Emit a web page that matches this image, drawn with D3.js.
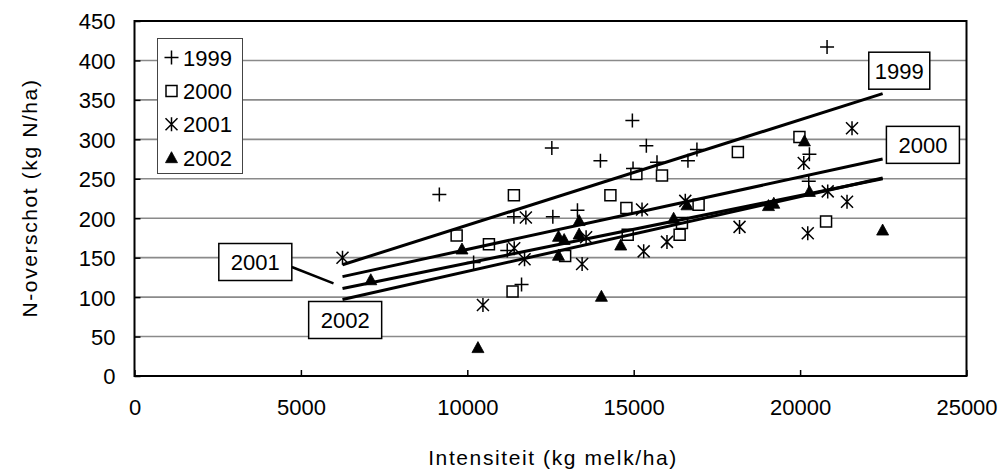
<!DOCTYPE html>
<html><head><meta charset="utf-8">
<script src="https://cdn.jsdelivr.net/npm/d3@7"></script>
<style>
body{margin:0;background:#fff}
svg{display:block}
text{font-family:"Liberation Sans",Arial,sans-serif;fill:#000}
</style>
</head><body><svg id="c" width="999" height="473"></svg>
<script>
// ---- data ----
const years = ["1999", "2000", "2001", "2002"];
const x1999 = [9160, 10190, 11200, 11400, 11630, 12540, 12570, 13310, 14000, 14960, 14980, 15380, 15700, 16630, 16900, 20260, 20280, 20810];
const y1999 = [230, 144, 159, 202, 116, 289, 202, 210, 273, 324, 263, 292, 271, 273, 287, 247, 281, 417];
const x2000 = [9680, 10650, 11360, 11400, 12940, 14300, 14780, 14820, 15080, 15850, 16380, 16450, 16950, 18130, 19980, 20780];
const y2000 = [178, 167, 107, 229, 152, 229, 213, 179, 256, 254, 179, 194, 217, 284, 303, 196];
const x2001 = [6250, 10470, 11410, 11720, 11760, 13450, 13570, 15250, 15300, 16000, 16550, 18180, 20110, 20230, 20830, 21410, 21560];
const y2001 = [150, 90, 162, 148, 201, 142, 176, 211, 158, 170, 222, 189, 270, 181, 234, 221, 314];
const x2002 = [7100, 9840, 10320, 12740, 12740, 12910, 13360, 13360, 14030, 14610, 16200, 16600, 19050, 19210, 20130, 20280, 22480];
const y2002 = [122, 161, 36, 177, 153, 173, 197, 180, 101, 166, 200, 217, 216, 219, 298, 234, 185];
// trend lines (start/end values over trendX)
const trendX = [6250, 22480];
const trend1999 = [141, 358];
const trend2000 = [126, 275];
const trend2001 = [111, 250];
const trend2002 = [97, 251];
// label boxes anchored in data units
const labelX = [22980, 23690, 3630, 6330];
const labelY = [387, 293, 144.5, 71];
const xTicks = [0, 5000, 10000, 15000, 20000, 25000];
const yTicks = [0, 50, 100, 150, 200, 250, 300, 350, 400, 450];
const xTitle = "Intensiteit (kg melk/ha)";
const yTitle = "N-overschot (kg N/ha)";

// ---- drawing ----
const svg = d3.select("#c");
const x = d3.scaleLinear().domain([0, 25000]).range([134.5, 966.5]);
const y = d3.scaleLinear().domain([0, 450]).range([376, 21]);

// gridlines
svg.append("g").selectAll("line").data(yTicks.filter(d => d > 0 && d < 450)).join("line")
  .attr("x1", x(0)).attr("x2", x(25000))
  .attr("y1", d => y(d)).attr("y2", d => y(d))
  .attr("stroke", "#8a8a8a").attr("stroke-width", 1.6);

// axes with inward ticks
const gx = svg.append("g").attr("transform", `translate(0,${y(0)})`)
  .call(d3.axisBottom(x).tickValues(xTicks).tickSize(-6).tickPadding(0).tickFormat(d3.format("d")));
gx.select(".domain").remove();
gx.selectAll(".tick line").attr("stroke", "#000").attr("stroke-width", 1.5);
gx.selectAll(".tick text").attr("y", 39).attr("dy", 0).style("font-size", "22px")
  .attr("font-family", "'Liberation Sans',Arial,sans-serif").attr("fill", "#000");

const gy = svg.append("g").attr("transform", `translate(${x(0)},0)`)
  .call(d3.axisLeft(y).tickValues(yTicks).tickSize(-6).tickPadding(0).tickFormat(d3.format("d")));
gy.select(".domain").remove();
gy.selectAll(".tick line").attr("stroke", "#000").attr("stroke-width", 1.5);
gy.selectAll(".tick text").attr("x", -19).attr("dy", "0.36em").style("font-size", "22px")
  .attr("font-family", "'Liberation Sans',Arial,sans-serif").attr("fill", "#000");

// plot border
svg.append("rect").attr("x", x(0)).attr("y", y(450))
  .attr("width", x(25000) - x(0)).attr("height", y(0) - y(450))
  .attr("fill", "none").attr("stroke", "#000").attr("stroke-width", 2);

// marker shapes
const markerPaths = {
  "1999": "M-7,0L7,0M0,-7L0,7",
  "2000": "M-5.5,-5.5H5.5V5.5H-5.5Z",
  "2001": "M0,-7L0,7M-6,-6L6,6M-6,6L6,-6",
  "2002": "M0,-6L6,5H-6Z"
};
const markerFill = {"1999": "none", "2000": "#fff", "2001": "none", "2002": "#000"};
function drawMarker(g, yr, px, py) {
  g.append("path").attr("d", markerPaths[yr])
    .attr("transform", `translate(${px},${py})`)
    .attr("fill", markerFill[yr]).attr("stroke", "#000")
    .attr("stroke-width", yr === "2002" ? 0.8 : 1.5);
}
const seriesX = [x1999, x2000, x2001, x2002];
const seriesY = [y1999, y2000, y2001, y2002];
const pts = svg.append("g");
years.forEach((yr, i) => {
  seriesX[i].forEach((xv, j) => drawMarker(pts, yr, x(xv), y(seriesY[i][j])));
});

// trend lines
const trends = [trend1999, trend2000, trend2001, trend2002];
const line = d3.line().x((d, i) => x(trendX[i])).y(d => y(d));
svg.append("g").selectAll("path").data(trends).join("path")
  .attr("d", d => line(d)).attr("fill", "none").attr("stroke", "#000").attr("stroke-width", 3);

// leader line for 2001 label
svg.append("line")
  .attr("x1", x(labelX[2]) + 36.5).attr("y1", y(labelY[2]) + 5)
  .attr("x2", x(trendX[0]) - 9).attr("y2", y(trend2001[0]) - 5)
  .attr("stroke", "#000").attr("stroke-width", 2.5);

// label boxes
const labelW = [61, 73, 73, 73];
years.forEach((yr, i) => {
  const cx = x(labelX[i]), cy = y(labelY[i]);
  svg.append("rect").attr("x", cx - labelW[i] / 2).attr("y", cy - 18.5)
    .attr("width", labelW[i]).attr("height", 37)
    .attr("fill", "#fff").attr("stroke", "#000").attr("stroke-width", 1.5);
  svg.append("text").attr("x", cx).attr("y", cy + 8)
    .attr("text-anchor", "middle").style("font-size", "22px").text(yr);
});

// legend
const lg = svg.append("g");
lg.append("rect").attr("x", 157.5).attr("y", 38.5).attr("width", 85).attr("height", 135)
  .attr("fill", "#fff").attr("stroke", "#444").attr("stroke-width", 1);
years.forEach((yr, i) => {
  const cy = 57.5 + i * 33.4;
  drawMarker(lg, yr, 171.5, cy);
  lg.append("text").attr("x", 183).attr("y", cy + 8).style("font-size", "22px").text(yr);
});

// axis titles
svg.append("text").attr("x", 553).attr("y", 465).attr("text-anchor", "middle")
  .style("font-size", "21px").style("letter-spacing", "1.6px").text(xTitle);
svg.append("text").attr("transform", "translate(37,198) rotate(-90)").attr("text-anchor", "middle")
  .style("font-size", "21px").style("letter-spacing", "1.6px").text(yTitle);
</script>
</body></html>
